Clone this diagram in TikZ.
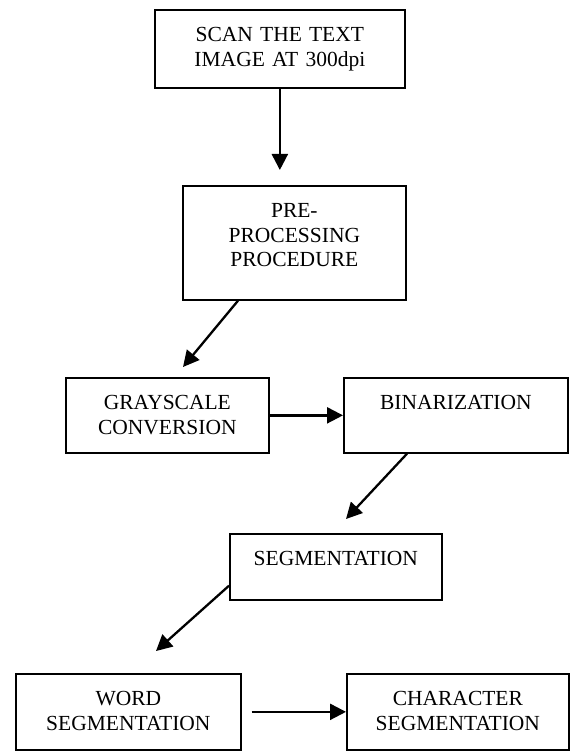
\documentclass[tikz,border=0pt]{standalone}
\usepackage{fontspec}
\setmainfont{Liberation Serif}
\usepackage{tikz}
\usetikzlibrary{arrows.meta, positioning, calc}

\begin{document}
\begin{tikzpicture}[x=1pt, y=-1pt,
    stepbox/.style={draw, rectangle, line width=1.7pt, inner sep=0pt, anchor=north west, align=center, text height=32pt, font=\fontsize{21.5}{24.5}\selectfont},
    arr/.style={-{Triangle[length=16pt, width=16pt]}, line width=2.3pt}]
    \useasboundingbox (0,0) rectangle (571,751);

    \node (Scan) [stepbox, text width=250pt, text depth=46pt] at (154,9) {SCAN THE TEXT\\IMAGE AT 300dpi};
    \node (PreProc) [stepbox, text width=223pt, text depth=82pt] at (182,185) {PRE-\\PROCESSING\\PROCEDURE};
    \node (Gray) [stepbox, text width=203pt, text depth=43pt] at (65,377) {GRAYSCALE\\CONVERSION};
    \node (Binar) [stepbox, text width=224pt, text depth=43pt] at (343,377) {BINARIZATION};
    \node (Segment) [stepbox, text width=212pt, text depth=34pt] at (229,533) {SEGMENTATION};
    \node (WordSeg) [stepbox, text width=225pt, text depth=44pt] at (15,673) {WORD\\SEGMENTATION};
    \node (CharSeg) [stepbox, text width=222pt, text depth=44pt] at (346,673) {CHARACTER\\SEGMENTATION};

    \coordinate (ScanTip) at ($(Scan.south |- PreProc.north)+(0,-15)$);
    \coordinate (PreTail) at ($(PreProc.south west)+(56,0)$);
    \coordinate (PreTip) at ($(Gray.north west)+(118,-10)$);
    \coordinate (BinTail) at ($(Binar.south west)+(64,0)$);
    \coordinate (BinTip) at ($(Segment.north west)+(117,-14)$);
    \coordinate (SegTail) at ($(Segment.south west)+(0,-15)$);
    \coordinate (SegTip) at ($(WordSeg.north west)+(141,-22)$);

    \draw[arr] (Scan.south) -- (ScanTip);
    \draw[arr] (PreTail) -- (PreTip);
    \draw[arr] (Gray.east) -- (Binar.west);
    \draw[arr] (BinTail) -- (BinTip);
    \draw[arr] (SegTail) -- (SegTip);
    \draw[arr, shorten <=10pt] (WordSeg.east) -- (CharSeg.west);
\end{tikzpicture}
\end{document}
